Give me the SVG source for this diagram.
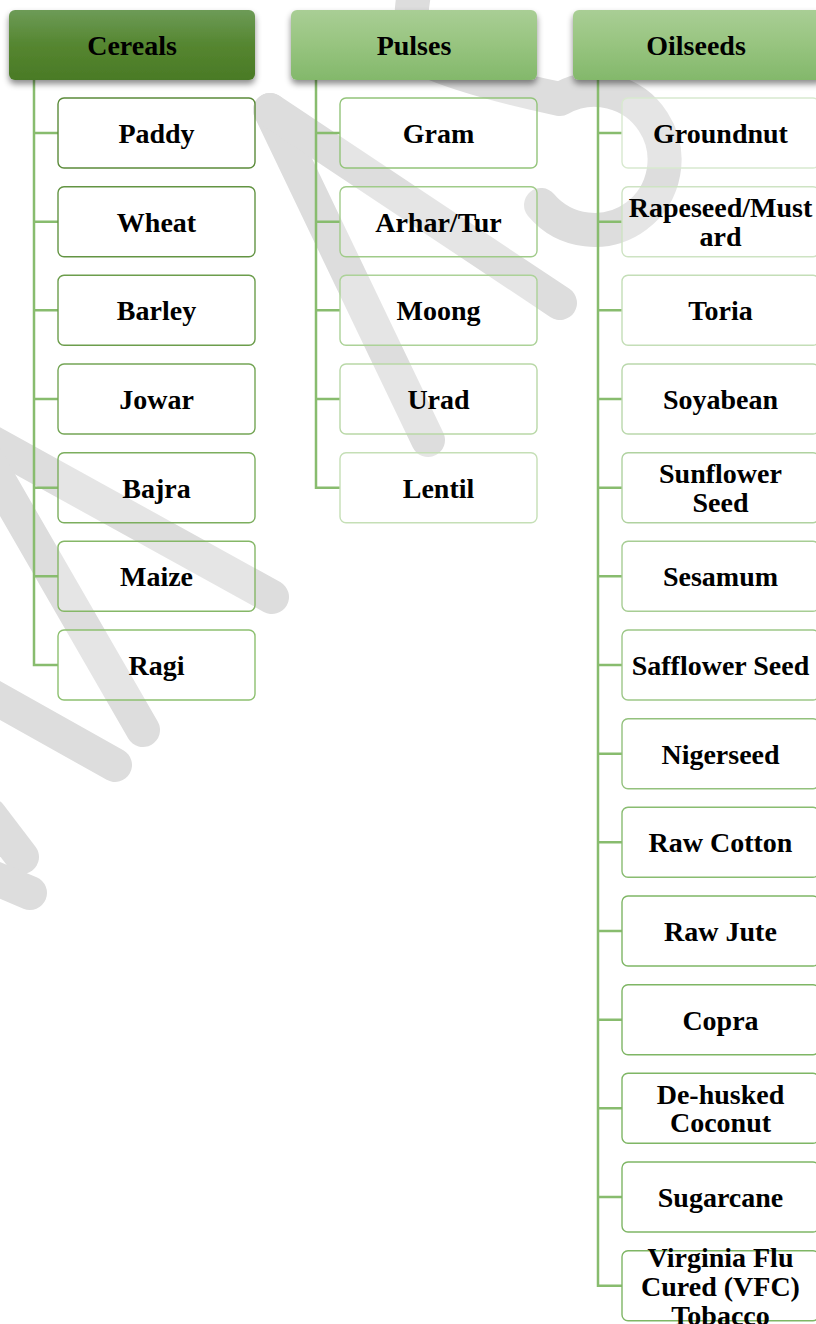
<svg xmlns="http://www.w3.org/2000/svg" width="816" height="1324" viewBox="0 0 816 1324">
<defs>
<linearGradient id="gDark" x1="0" y1="0" x2="0" y2="1">
<stop offset="0" stop-color="#6d9b57"/>
<stop offset="0.5" stop-color="#558630"/>
<stop offset="1" stop-color="#4a7a26"/>
</linearGradient>
<linearGradient id="gLight" x1="0" y1="0" x2="0" y2="1">
<stop offset="0" stop-color="#a9ce95"/>
<stop offset="0.5" stop-color="#97c47f"/>
<stop offset="1" stop-color="#83b86b"/>
</linearGradient>
<filter id="sh" x="-10%" y="-20%" width="120%" height="160%">
<feDropShadow dx="0" dy="4" stdDeviation="3" flood-color="#000" flood-opacity="0.45"/>
</filter>
<style>
.wm{fill:none;stroke:#dddddd;stroke-width:34;stroke-linecap:round;stroke-linejoin:round}
.hd{filter:url(#sh)}
.bx{fill:#ffffff;fill-opacity:0.25;stroke-width:1.4}
.cn{fill:none;stroke:#88bc6e;stroke-width:2.5}
text{font-family:"Liberation Serif","Times New Roman",serif;font-weight:bold;font-size:28px;fill:#000;text-anchor:middle}
</style>
</defs>
<rect x="0" y="0" width="816" height="1324" fill="#ffffff"/>
<g id="watermark">
<path class="wm" d="M 270 110 L 428 440"/>
<path class="wm" d="M 270 110 L 560 303"/>
<path class="wm" d="M 541 205 A 70 70 0 1 0 560 99 Q 470 80 425 60 Q 405 30 415 -10"/>
<path class="wm" d="M -30 430 L 272 597"/>
<path class="wm" d="M -30 430 L 143 730"/>
<path class="wm" d="M -40 678 L 115 765"/>
<path class="wm" d="M -10 815 L 22 857"/>
<path class="wm" d="M -20 872 L 30 893"/>
</g>
<g id="connectors">
<path class="cn" d="M34 80 V665 H58 M34 133 H58 M34 221.7 H58 M34 310.3 H58 M34 399 H58 M34 487.7 H58 M34 576.3 H58"/>
<path class="cn" d="M316 80 V487.7 H340 M316 133 H340 M316 221.7 H340 M316 310.3 H340 M316 399 H340"/>
<path class="cn" d="M598 80 V1285.7 H622 M598 133 H622 M598 221.7 H622 M598 310.3 H622 M598 399 H622 M598 487.7 H622 M598 576.3 H622 M598 665 H622 M598 753.7 H622 M598 842.3 H622 M598 931 H622 M598 1019.7 H622 M598 1108.3 H622 M598 1197 H622"/>
</g>
<g id="cereals"><rect class="hd" x="9" y="10" width="246" height="70" rx="6" fill="url(#gDark)"/><text x="132" y="54.5">Cereals</text></g>
<g id="pulses"><rect class="hd" x="291" y="10" width="246" height="70" rx="6" fill="url(#gLight)"/><text x="414" y="54.5">Pulses</text></g>
<g id="oilseeds"><rect class="hd" x="573" y="10" width="250" height="70" rx="6" fill="url(#gLight)"/><text x="696" y="54.5">Oilseeds</text></g>

<g id="paddy"><rect class="bx" x="58" y="98" width="197" height="70" rx="6" stroke="#5b8b3a"/><text x="156.5" y="143">Paddy</text></g>
<g id="wheat"><rect class="bx" x="58" y="186.7" width="197" height="70" rx="6" stroke="#639443"/><text x="156.5" y="231.7">Wheat</text></g>
<g id="barley"><rect class="bx" x="58" y="275.3" width="197" height="70" rx="6" stroke="#6c9d4c"/><text x="156.5" y="320.3">Barley</text></g>
<g id="jowar"><rect class="bx" x="58" y="364" width="197" height="70" rx="6" stroke="#74a555"/><text x="156.5" y="409">Jowar</text></g>
<g id="bajra"><rect class="bx" x="58" y="452.7" width="197" height="70" rx="6" stroke="#7cae5e"/><text x="156.5" y="497.7">Bajra</text></g>
<g id="maize"><rect class="bx" x="58" y="541.3" width="197" height="70" rx="6" stroke="#85b767"/><text x="156.5" y="586.3">Maize</text></g>
<g id="ragi"><rect class="bx" x="58" y="630" width="197" height="70" rx="6" stroke="#8dc070"/><text x="156.5" y="675">Ragi</text></g>

<g id="gram"><rect class="bx" x="340" y="98" width="197" height="70" rx="6" stroke="#93c47a"/><text x="438.5" y="143">Gram</text></g>
<g id="arhar"><rect class="bx" x="340" y="186.7" width="197" height="70" rx="6" stroke="#a0cb89"/><text x="438.5" y="231.7">Arhar/Tur</text></g>
<g id="moong"><rect class="bx" x="340" y="275.3" width="197" height="70" rx="6" stroke="#acd298"/><text x="438.5" y="320.3">Moong</text></g>
<g id="urad"><rect class="bx" x="340" y="364" width="197" height="70" rx="6" stroke="#b9d8a7"/><text x="438.5" y="409">Urad</text></g>
<g id="lentil"><rect class="bx" x="340" y="452.7" width="197" height="70" rx="6" stroke="#c5dfb6"/><text x="438.5" y="497.7">Lentil</text></g>

<g id="groundnut"><rect class="bx" x="622" y="98" width="197" height="70" rx="6" stroke="#d8e9cf"/><text x="720.5" y="143">Groundnut</text></g>
<g id="rapeseed"><rect class="bx" x="622" y="186.7" width="197" height="70" rx="6" stroke="#cee3c3"/><text x="720.5" y="217.2">Rapeseed/Must</text><text x="720.5" y="245.7">ard</text></g>
<g id="toria"><rect class="bx" x="622" y="275.3" width="197" height="70" rx="6" stroke="#c4deb7"/><text x="720.5" y="320.3">Toria</text></g>
<g id="soyabean"><rect class="bx" x="622" y="364" width="197" height="70" rx="6" stroke="#bad8ac"/><text x="720.5" y="409">Soyabean</text></g>
<g id="sunflower"><rect class="bx" x="622" y="452.7" width="197" height="70" rx="6" stroke="#b0d2a0"/><text x="720.5" y="483.2">Sunflower</text><text x="720.5" y="511.7">Seed</text></g>
<g id="sesamum"><rect class="bx" x="622" y="541.3" width="197" height="70" rx="6" stroke="#a7cd94"/><text x="720.5" y="586.3">Sesamum</text></g>
<g id="safflower"><rect class="bx" x="622" y="630" width="197" height="70" rx="6" stroke="#9dc788"/><text x="720.5" y="675">Safflower Seed</text></g>
<g id="nigerseed"><rect class="bx" x="622" y="718.7" width="197" height="70" rx="6" stroke="#93c17d"/><text x="720.5" y="763.7">Nigerseed</text></g>
<g id="rawcotton"><rect class="bx" x="622" y="807.3" width="197" height="70" rx="6" stroke="#89bc71"/><text x="720.5" y="852.3">Raw Cotton</text></g>
<g id="rawjute"><rect class="bx" x="622" y="896" width="197" height="70" rx="6" stroke="#7fb665"/><text x="720.5" y="941">Raw Jute</text></g>
<g id="copra"><rect class="bx" x="622" y="984.7" width="197" height="70" rx="6" stroke="#7fb665"/><text x="720.5" y="1029.7">Copra</text></g>
<g id="dehusked"><rect class="bx" x="622" y="1073.3" width="197" height="70" rx="6" stroke="#7fb665"/><text x="720.5" y="1103.8">De-husked</text><text x="720.5" y="1132.3">Coconut</text></g>
<g id="sugarcane"><rect class="bx" x="622" y="1162" width="197" height="70" rx="6" stroke="#7fb665"/><text x="720.5" y="1207">Sugarcane</text></g>
<g id="vfc"><rect class="bx" x="622" y="1250.7" width="197" height="70" rx="6" stroke="#7fb665"/><text x="720.5" y="1266.7">Virginia Flu</text><text x="720.5" y="1295.7">Cured (VFC)</text><text x="720.5" y="1324.7">Tobacco</text></g>
</svg>
